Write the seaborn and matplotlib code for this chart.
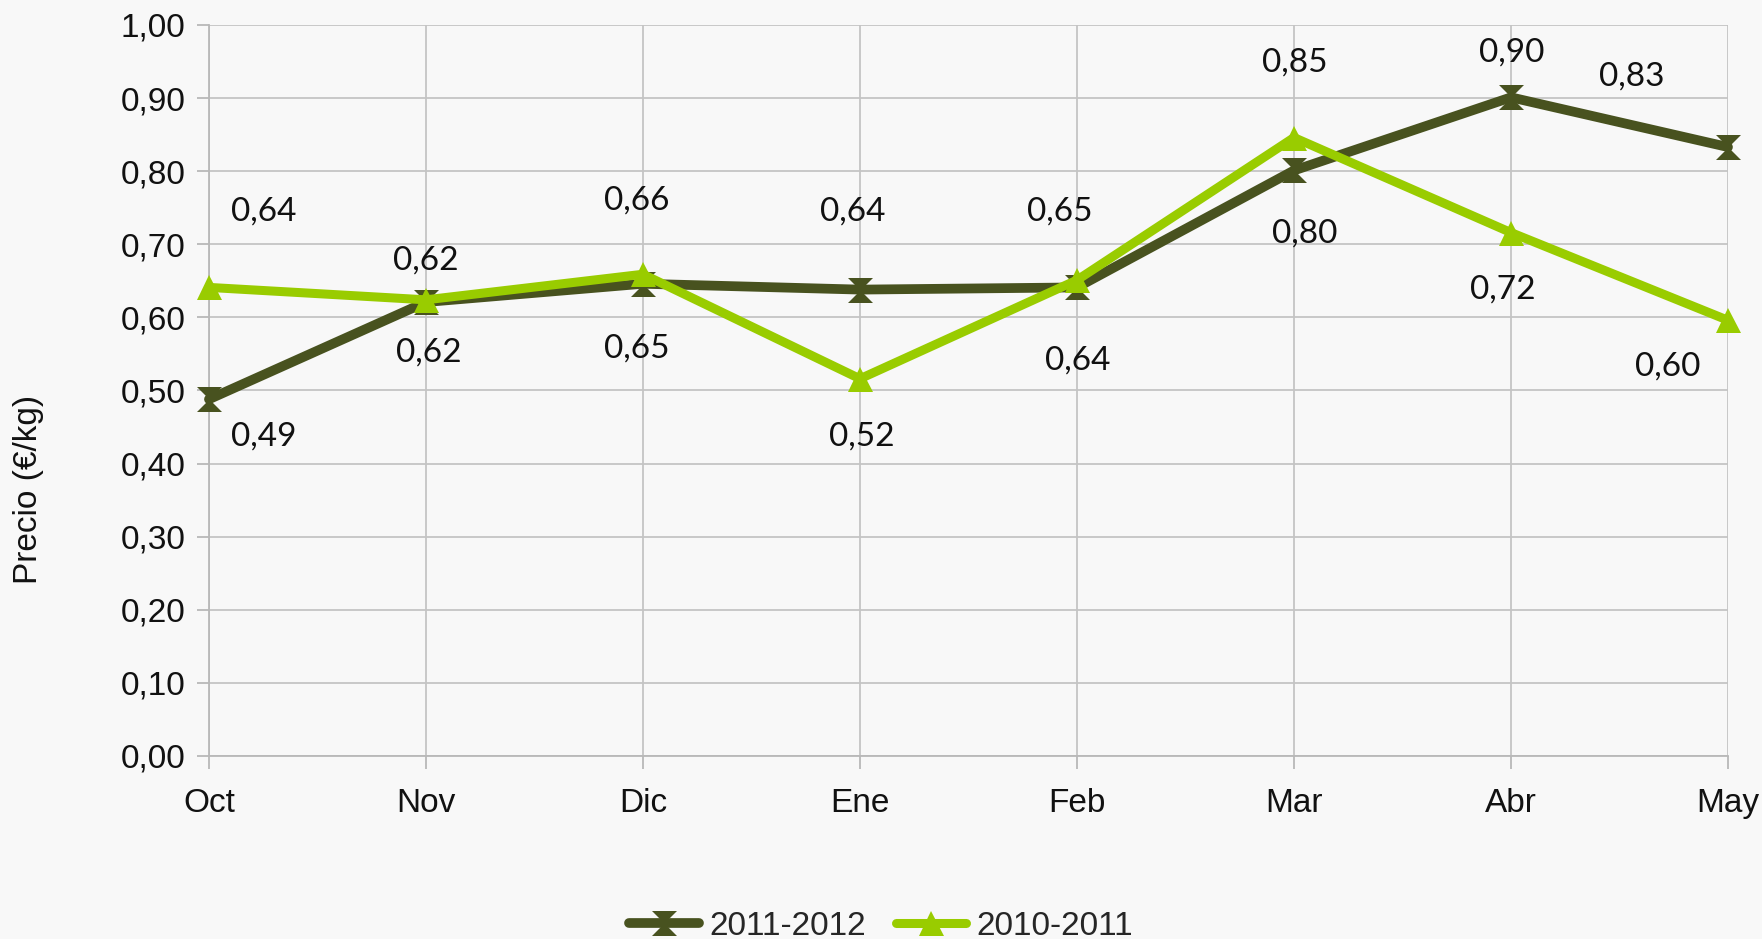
import matplotlib
matplotlib.use('Agg')
import matplotlib.pyplot as plt
import seaborn as sns
import pandas as pd
from matplotlib.path import Path

meses = ['Oct', 'Nov', 'Dic', 'Ene', 'Feb', 'Mar', 'Abr', 'May']
precio_2011_2012 = [0.488, 0.621, 0.646, 0.638, 0.641, 0.801, 0.901, 0.833]
precio_2010_2011 = [0.641, 0.624, 0.659, 0.516, 0.651, 0.846, 0.716, 0.596]
yticks = [0.0, 0.1, 0.2, 0.3, 0.4, 0.5, 0.6, 0.7, 0.8, 0.9, 1.0]

# offsets de las etiquetas (pixeles, x derecha / y abajo)
off_2011 = [(55, 37), (3, 51), (-6, 65), (-7, -78), (1, 73), (11, 63), (1, -45), (-96, -71)]
off_2010 = [(55, -76), (0, -39), (-6, -74), (2, 58), (-17, -69), (1, -75), (-8, 57), (-60, 46)]

c_osc = '#48521f'
c_ver = '#99cc00'
fondo = '#f8f8f8'

df = pd.DataFrame({'x': range(len(meses)), 'mes': meses,
                   'p1': precio_2011_2012, 'p2': precio_2010_2011})

reloj = Path([(-1, 1), (1, 1), (0, 0), (1, -1), (-1, -1), (0, 0), (-1, 1)],
             [Path.MOVETO, Path.LINETO, Path.LINETO, Path.LINETO, Path.LINETO, Path.LINETO, Path.CLOSEPOLY])

sns.set_style('white')
plt.rcParams['font.family'] = ['Liberation Sans', 'DejaVu Sans']

fig = plt.figure(figsize=(17.62, 9.39), dpi=100, facecolor=fondo)
ax = fig.add_axes([0.1186, 0.1949, 0.8621, 0.7785])
ax.set_facecolor(fondo)

sns.lineplot(data=df, x='x', y='p1', ax=ax, color=c_osc, lw=7, marker=reloj,
             markersize=18, markeredgewidth=0, label='2011-2012', zorder=3, clip_on=False)
sns.lineplot(data=df, x='x', y='p2', ax=ax, color=c_ver, lw=6.5, marker='^',
             markersize=18, markeredgewidth=0, label='2010-2011', zorder=4, clip_on=False)

for vals, offs in [(precio_2011_2012, off_2011), (precio_2010_2011, off_2010)]:
    for i, (v, (dx, dy)) in enumerate(zip(vals, offs)):
        ax.annotate(f'{v:.2f}'.replace('.', ','), (i, v), xytext=(dx, -dy),
                    textcoords='offset pixels', ha='center', va='center',
                    fontsize=24, family=['Lato', 'DejaVu Sans'], color='#111111')

ax.set_xlim(0, len(meses) - 1)
ax.set_ylim(0, 1)
ax.set_xticks(range(len(meses)))
ax.set_xticklabels(meses)
ax.set_yticks(yticks)
ax.set_yticklabels([f'{t:.2f}'.replace('.', ',') for t in yticks])
ax.tick_params(axis='both', labelsize=24, length=9, width=1.3, color='#b8b8b8',
               direction='out', left=True, bottom=True, labelcolor='#111111')
ax.tick_params(axis='x', pad=14)
ax.tick_params(axis='y', pad=8)
ax.grid(True, color='#c4c4c4', lw=1.3)
ax.set_axisbelow(True)
for s in ['top', 'right']:
    ax.spines[s].set_visible(False)
for s in ['left', 'bottom']:
    ax.spines[s].set_color('#b8b8b8')
    ax.spines[s].set_linewidth(1.3)

ax.set_xlabel('')
ax.set_ylabel('')
fig.text(0.016, 0.479, 'Precio (€/kg)', rotation=90, ha='center', va='center',
         fontsize=24, color='#111111')

handles, labels = ax.get_legend_handles_labels()
ax.get_legend().remove()
fig.legend(handles, labels, loc='lower center', bbox_to_anchor=(0.5, -0.003),
           ncol=2, frameon=False, fontsize=24, handlelength=2.1, columnspacing=0.9,
           handletextpad=0.3, borderpad=0, borderaxespad=0)

fig.savefig('out.png', dpi=100, facecolor=fondo)
